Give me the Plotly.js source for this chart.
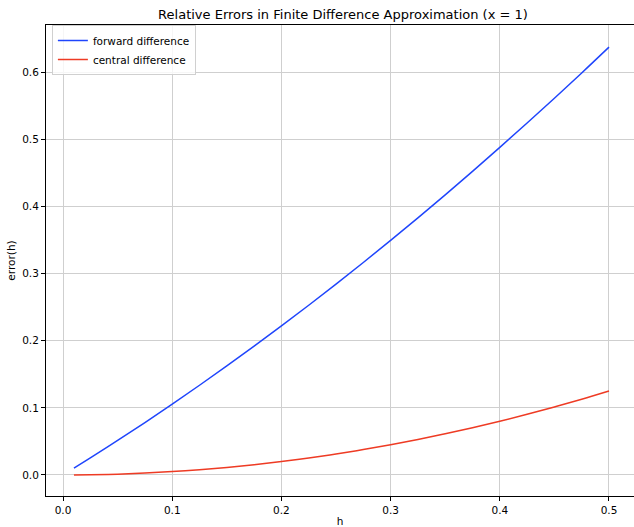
<!DOCTYPE html>
<html>
<head>
<meta charset="utf-8">
<script src="https://cdn.plot.ly/plotly-3.0.1.min.js"></script>
<style>html,body{margin:0;padding:0;background:#fff;}#chart{width:634px;height:527px;}</style>
</head>
<body>
<div id="chart"></div>
<script>
const hValues = [0.01, 0.025, 0.05, 0.075, 0.1, 0.125, 0.15, 0.175, 0.2, 0.225, 0.25, 0.275, 0.3, 0.325, 0.35, 0.375, 0.4, 0.425, 0.45, 0.475, 0.5];
const forwardError = [0.0101, 0.0253, 0.0514, 0.0781, 0.1055, 0.1336, 0.1623, 0.1918, 0.2219, 0.2527, 0.2843, 0.3164, 0.3493, 0.3829, 0.4171, 0.4521, 0.4877, 0.5240, 0.5610, 0.5986, 0.6370];
const centralError = [0.00005, 0.0003, 0.00125, 0.0028, 0.005, 0.0078, 0.01125, 0.0153, 0.02, 0.0253, 0.0313, 0.0378, 0.045, 0.0528, 0.0613, 0.0703, 0.08, 0.0903, 0.1013, 0.1128, 0.125];
const xTicks = [0, 0.1, 0.2, 0.3, 0.4, 0.5];
const yTicks = [0, 0.1, 0.2, 0.3, 0.4, 0.5, 0.6];

const font = {family: 'DejaVu Sans, sans-serif', size: 10.5, color: '#000'};
const traces = [
  {x: hValues, y: forwardError, type: 'scatter', mode: 'lines', name: 'forward difference', line: {color: '#1f45fc', width: 1.5, shape: 'spline'}},
  {x: hValues, y: centralError, type: 'scatter', mode: 'lines', name: 'central difference', line: {color: '#ee3b24', width: 1.5, shape: 'spline'}}
];
const layout = {
  width: 634, height: 527,
  margin: {l: 46, r: 0, t: 25, b: 31},
  paper_bgcolor: '#fff', plot_bgcolor: '#fff',
  font: font,
  title: {text: 'Relative Errors in Finite Difference Approximation (x = 1)', font: {family: 'DejaVu Sans, sans-serif', size: 13, color: '#000'}, x: 0.541, xanchor: 'center', y: 0.972, yanchor: 'middle'},
  xaxis: {
    range: [-0.0156, 0.5229], tickvals: xTicks, ticktext: xTicks.map(v => v.toFixed(1)),
    showgrid: true, gridcolor: '#cfcfcf', gridwidth: 1, zeroline: false,
    showline: true, linecolor: '#000', linewidth: 1, mirror: true,
    ticks: 'outside', ticklen: 4, tickcolor: '#000',
    title: {text: 'h', font: font, standoff: 9}
  },
  yaxis: {
    range: [-0.0313, 0.67], tickvals: yTicks, ticktext: yTicks.map(v => v.toFixed(1)),
    showgrid: true, gridcolor: '#cfcfcf', gridwidth: 1, zeroline: false,
    showline: true, linecolor: '#000', linewidth: 1, mirror: true,
    ticks: 'outside', ticklen: 4, tickcolor: '#000',
    title: {text: 'error(h)', font: font, standoff: 4}
  },
  showlegend: true,
  legend: {x: 0.01, y: 1.0, xanchor: 'left', yanchor: 'top', bgcolor: 'rgba(255,255,255,0.8)', bordercolor: '#d0d0d0', borderwidth: 1, font: font, tracegroupgap: 0}
};
Plotly.newPlot('chart', traces, layout, {displayModeBar: false, staticPlot: true});
</script>
</body>
</html>
